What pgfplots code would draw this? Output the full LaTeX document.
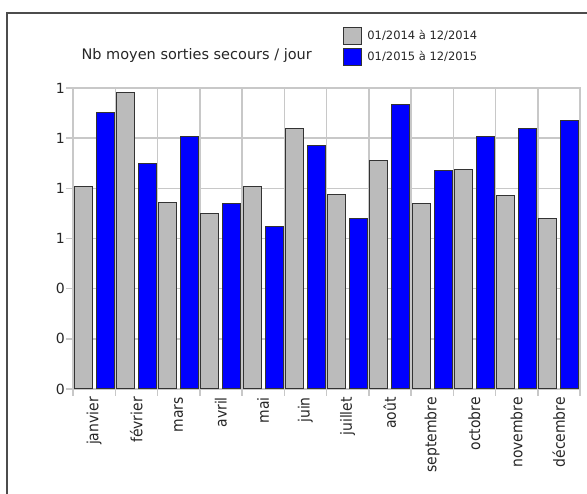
\documentclass[border=0pt]{standalone}
\usepackage{fontspec}
\setmainfont{DejaVu Sans}
\newfontfamily\condfont{DejaVu Sans Condensed}
\usepackage{pgfplots}
\pgfplotsset{compat=1.18}
\definecolor{gridc}{HTML}{C8C8C8}
\definecolor{barg}{HTML}{BBBBBB}
\definecolor{barb}{HTML}{0000FF}
\definecolor{edgec}{HTML}{333333}
\begin{document}
\begin{tikzpicture}[x=1pt,y=1pt]
\useasboundingbox (0,0) rectangle (587,494);
\draw[black!70, line width=1.2pt] (7,0) -- (7,481) -- (587,481);
\begin{axis}[
 at={(73pt,105pt)}, anchor=south west,
 scale only axis, width=507pt, height=301pt,
 ybar=4pt, bar width=18pt,
 xmin=-0.5, xmax=11.5, ymin=0, ymax=1.2,
 xtick={-0.5,0.5,1.5,2.5,3.5,4.5,5.5,6.5,7.5,8.5,9.5,10.5,11.5},
 x tick label as interval,
 xticklabels={janvier,février,mars,avril,mai,juin,juillet,août,septembre,octobre,novembre,décembre},
 xtick pos=bottom, ytick pos=left,
 xmajorgrids, ymajorgrids,
 ytick={0,0.2,0.4,0.6,0.8,1,1.2},
 yticklabels={0,0,0,1,1,1,1},
 tick align=outside,
 major tick length=7pt,
 tick style={gridc, line width=1.5pt},
 grid style={gridc, line width=1.5pt},
 axis line style={gridc, line width=1.5pt},
 xticklabel style={rotate=90, anchor=east, font=\condfont\fontsize{15.5}{15.5}\selectfont, text=black!85, inner xsep=1pt},
 yticklabel style={font=\fontsize{14}{14}\selectfont, inner xsep=1pt, text=black!85},
 title={Nb moyen sorties secours / jour},
 title style={at={(0.244,1.087)}, anchor=center, font=\fontsize{14.5}{15}\selectfont, text=black!85},
 legend style={at={(0.533,1.203)}, anchor=north west, draw=none, fill=none,
   font=\fontsize{11.5}{12}\selectfont, row sep=3pt, inner sep=0pt,
   nodes={inner xsep=5pt, inner ysep=0pt, text=black!85}},
 legend cell align=left,
]
\addplot[fill=barg, draw=edgec, line width=1pt,
  legend image code/.code={\draw[fill=barg, draw=edgec, line width=1pt] (0pt,-8.5pt) rectangle (18pt,8.5pt);}]
 coordinates {(0,0.807) (1,1.181) (2,0.744) (3,0.701) (4,0.807) (5,1.037) (6,0.776) (7,0.909) (8,0.739) (9,0.877) (10,0.771) (11,0.680)};
\addlegendentry{01/2014 à 12/2014}
\addplot[fill=barb, draw=edgec, line width=1pt,
  legend image code/.code={\draw[fill=barb, draw=edgec, line width=1pt] (0pt,-8.5pt) rectangle (18pt,8.5pt);}]
 coordinates {(0,1.101) (1,0.897) (2,1.005) (3,0.739) (4,0.648) (5,0.972) (6,0.680) (7,1.135) (8,0.872) (9,1.005) (10,1.037) (11,1.069)};
\addlegendentry{01/2015 à 12/2015}
\end{axis}
\end{tikzpicture}
\end{document}
